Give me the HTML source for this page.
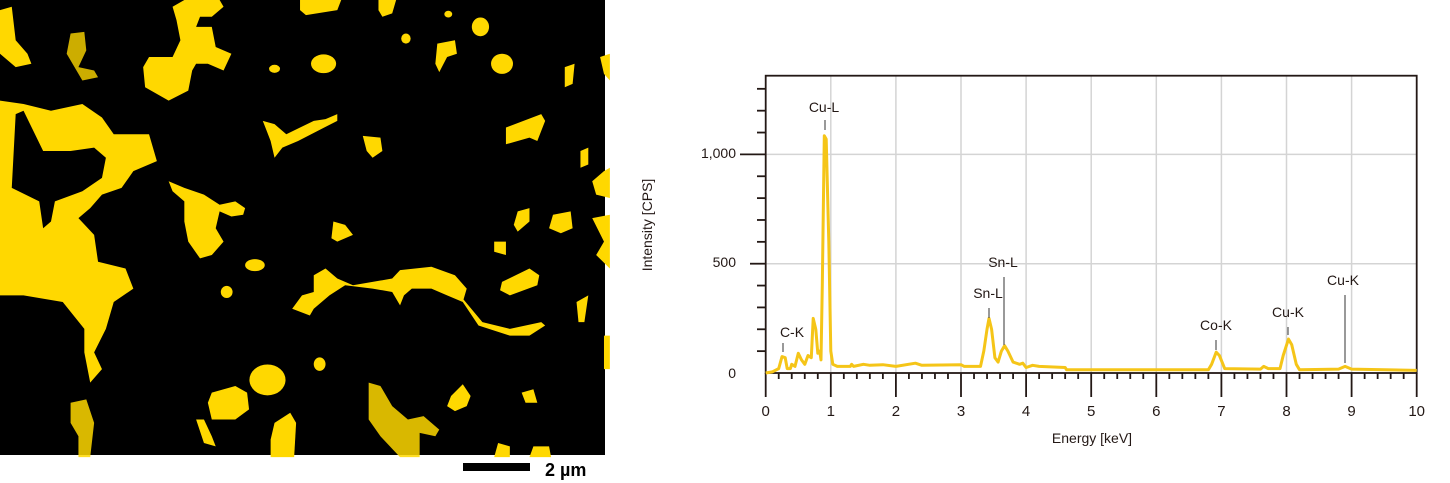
<!DOCTYPE html>
<html><head><meta charset="utf-8"><style>
html,body{margin:0;padding:0;background:#fff;}
body{width:1450px;height:483px;overflow:hidden;position:relative;font-family:"Liberation Sans",sans-serif;}
svg{position:absolute;left:0;top:0;}
</style></head><body>
<svg width="1450" height="483" viewBox="0 0 1450 483">
<rect x="0" y="0" width="605" height="455" fill="#000"/>
<g transform="scale(0.3922,0.3356)" fill="#ffd800">
<path fill-rule="evenodd" d="M0,300 L60,310 L130,330 L210,310 L260,350 L290,400 L380,400 L400,480 L340,510 L310,560 L260,580 L230,620 L200,650 L240,700 L250,780 L320,800 L340,860 L290,900 L270,980 L240,1050 L260,1100 L230,1140 L215,1050 L215,980 L160,900 L60,880 L0,880 Z M40,340 L30,560 L100,600 L110,680 L130,660 L140,600 L210,570 L260,530 L270,470 L240,440 L180,450 L110,450 L60,330 Z"/>
<path d="M440,20 L470,0 L560,0 L570,20 L540,50 L510,50 L500,80 L540,80 L550,140 L590,160 L570,210 L530,190 L500,190 L490,210 L480,270 L430,300 L370,260 L365,200 L380,170 L440,170 L460,120 L450,60Z"/>
<path d="M765,0 L870,0 L860,30 L780,45 L765,30Z"/>
<path d="M965,0 L1010,0 L1000,40 L975,50 L965,30Z"/>
<ellipse cx="1143" cy="42" rx="10" ry="10"/>
<ellipse cx="1225" cy="80" rx="22" ry="28"/>
<path d="M1115,130 L1160,120 L1165,160 L1140,170 L1120,215 L1110,190Z"/>
<ellipse cx="825" cy="190" rx="32" ry="28"/>
<ellipse cx="1280" cy="190" rx="28" ry="30"/>
<ellipse cx="700" cy="205" rx="14" ry="12"/>
<path d="M1440,200 L1465,190 L1460,250 L1440,260Z"/>
<path d="M1530,170 L1555,160 L1555,240 L1540,220Z"/>
<path d="M0,30 L30,20 L40,120 L70,160 L80,190 L40,200 L0,160Z"/>
<path d="M180,100 L215,95 L220,150 L200,200 L240,210 L250,230 L210,240 L190,200 L170,160Z" opacity="0.8"/>
<path d="M1290,380 L1380,340 L1390,360 L1370,420 L1350,410 L1290,430Z"/>
<path d="M925,405 L970,410 L975,450 L950,470 L935,450Z"/>
<path d="M670,360 L700,370 L730,400 L800,360 L830,355 L860,340 L860,360 L760,420 L720,440 L700,470 L690,420Z"/>
<path d="M430,540 L470,560 L520,580 L560,610 L600,600 L625,620 L620,640 L590,645 L560,630 L550,680 L570,720 L540,760 L510,770 L480,720 L470,660 L470,600 L440,570Z"/>
<path d="M850,660 L880,670 L900,700 L860,720 L845,710Z"/>
<path d="M1320,630 L1350,620 L1350,660 L1320,690 L1310,670Z"/>
<path d="M1410,640 L1455,630 L1460,680 L1430,695 L1400,680Z"/>
<path d="M1260,720 L1290,720 L1290,760 L1260,750Z"/>
<ellipse cx="650" cy="790" rx="25" ry="18"/>
<ellipse cx="578" cy="870" rx="15" ry="18"/>
<path d="M1280,840 L1350,800 L1375,820 L1370,850 L1300,880 L1275,865Z"/>
<path d="M800,820 L830,800 L860,830 L900,850 L1000,830 L1020,805 L1100,795 L1160,820 L1190,860 L1180,900 L1140,880 L1100,860 L1050,860 L1030,880 L1020,910 L1000,870 L950,860 L880,850 L840,880 L800,920 L790,940 L745,920 L770,880 L800,870Z"/>
<path d="M1180,890 L1230,960 L1300,980 L1380,960 L1390,970 L1350,1000 L1300,1000 L1220,970 L1180,900Z"/>
<ellipse cx="682" cy="1132" rx="46" ry="46"/>
<path d="M540,1170 L600,1150 L630,1170 L635,1220 L600,1250 L540,1250 L530,1200Z"/>
<path d="M700,1260 L740,1230 L755,1260 L750,1362 L690,1362 L690,1310Z"/>
<path d="M940,1140 L970,1150 L1000,1210 L1040,1250 L1080,1240 L1120,1280 L1110,1300 L1070,1290 L1070,1362 L1020,1362 L970,1300 L940,1250Z" opacity="0.85"/>
<path d="M1150,1180 L1180,1145 L1200,1180 L1190,1210 L1160,1225 L1140,1210Z"/>
<path d="M1260,1362 L1270,1320 L1300,1330 L1300,1362Z"/>
<path d="M1350,1362 L1360,1330 L1400,1330 L1405,1362Z"/>
<path d="M1330,1170 L1360,1160 L1370,1200 L1340,1200Z"/>
<path d="M180,1200 L220,1190 L240,1260 L230,1362 L200,1362 L200,1300 L180,1260Z" opacity="0.85"/>
<path d="M500,1250 L520,1250 L540,1300 L550,1330 L520,1320Z"/>
<path d="M1510,650 L1555,640 L1555,800 L1520,760 L1540,720Z"/>
<path d="M1510,540 L1540,510 L1555,500 L1555,590 L1520,580Z"/>
<path d="M1480,450 L1500,440 L1500,490 L1480,500Z"/>
<path d="M1470,900 L1500,880 L1490,960 L1475,960Z"/>
<path d="M1540,1000 L1555,1000 L1555,1100 L1540,1100Z"/>
<ellipse cx="815" cy="1085" rx="15" ry="20"/>
<ellipse cx="1035" cy="115" rx="12" ry="15"/>
</g>
<rect x="463" y="463" width="67" height="8" fill="#000"/>
<text x="545" y="476" font-size="18" font-weight="bold" fill="#000">2 µm</text>

<g id="grid" stroke="#d4d4d4" stroke-width="1.5"></g>
<g id="axes" stroke="#231815" stroke-width="1.8" fill="none"></g>
<path id="spec" fill="none" stroke="#f5c518" stroke-width="3" stroke-linejoin="round"/>
<g font-size="14" fill="#231815" id="labels" text-anchor="middle">
<text x="824" y="112">Cu-L</text>
<text x="792" y="337">C-K</text>
<text x="988" y="298">Sn-L</text>
<text x="1003" y="267">Sn-L</text>
<text x="1216" y="330">Co-K</text>
<text x="1288" y="317">Cu-K</text>
<text x="1343" y="285">Cu-K</text>
<text x="1092" y="443">Energy [keV]</text>
<text transform="translate(652,225) rotate(-90)">Intensity [CPS]</text>
<text x="736" y="158" text-anchor="end">1,000</text>
<text x="736" y="267" text-anchor="end">500</text>
<text x="736" y="378" text-anchor="end">0</text>
</g>
<g stroke="#555" stroke-width="1.2">
<line x1="825" y1="120" x2="825" y2="130"/>
<line x1="783" y1="343" x2="783" y2="352"/>
<line x1="989" y1="308" x2="989" y2="318"/>
<line x1="1004" y1="277" x2="1004" y2="345"/>
<line x1="1216" y1="340" x2="1216" y2="350"/>
<line x1="1288" y1="327" x2="1288" y2="335"/>
<line x1="1345" y1="295" x2="1345" y2="363"/>
</g>
</svg>
<script>
var X0=765.7,KX=65.1,Y0=373,KY=0.2186,NS="http://www.w3.org/2000/svg";
function el(p,t,a){var e=document.createElementNS(NS,t);for(var k in a)e.setAttribute(k,a[k]);p.appendChild(e);return e;}
var g=document.getElementById('grid'),ax=document.getElementById('axes'),lb=document.getElementById('labels');
for(var i=1;i<10;i++){var x=X0+i*KX;el(g,'line',{x1:x,y1:75.7,x2:x,y2:373});}
[500,1000].forEach(function(v){var y=Y0-v*KY;el(g,'line',{x1:X0,y1:y,x2:1416.7,y2:y});});
el(ax,'rect',{x:X0,y:75.7,width:1416.7-X0,height:373-75.7});
for(var i=0;i<=50;i++){var x=X0+i*KX/5;el(ax,'line',{x1:x,y1:373,x2:x,y2:i%5==0?397:379});}
for(var i=0;i<=10;i++){var t=el(lb,'text',{x:X0+i*KX,y:416,'font-size':15});t.textContent=i;}
for(var v=100;v<=1300;v+=100){var y=Y0-v*KY;var x1=v==1000?740:(v==500?750:757);el(ax,'line',{x1:x1,y1:y,x2:X0,y2:y});}
var d=[[0,0],[0.1,5],[0.2,20],[0.25,75],[0.3,70],[0.33,20],[0.38,20],[0.4,40],[0.45,30],[0.5,90],[0.55,60],[0.6,40],[0.65,80],[0.7,70],[0.73,250],[0.77,200],[0.8,90],[0.83,100],[0.85,60],[0.87,400],[0.9,1085],[0.93,1070],[0.97,600],[1.0,100],[1.03,40],[1.1,30],[1.3,30],[1.32,40],[1.35,30],[1.5,40],[1.6,35],[1.8,38],[2.0,30],[2.3,45],[2.4,35],[3.0,38],[3.05,30],[3.3,30],[3.35,100],[3.4,200],[3.43,250],[3.47,200],[3.52,70],[3.57,50],[3.62,100],[3.67,125],[3.72,100],[3.8,50],[3.9,40],[3.95,45],[4.0,25],[4.1,35],[4.2,30],[4.6,25],[4.62,15],[6.8,15],[6.85,40],[6.92,95],[6.97,80],[7.05,20],[7.6,18],[7.65,30],[7.72,20],[7.9,20],[7.95,80],[8.03,155],[8.08,130],[8.15,40],[8.2,15],[8.8,18],[8.9,30],[9.0,18],[10,12]];
document.getElementById('spec').setAttribute('d',d.map(function(p,i){return (i?'L':'M')+(X0+p[0]*KX).toFixed(1)+','+(Y0-p[1]*KY).toFixed(1);}).join(' '));
</script>
</body></html>
